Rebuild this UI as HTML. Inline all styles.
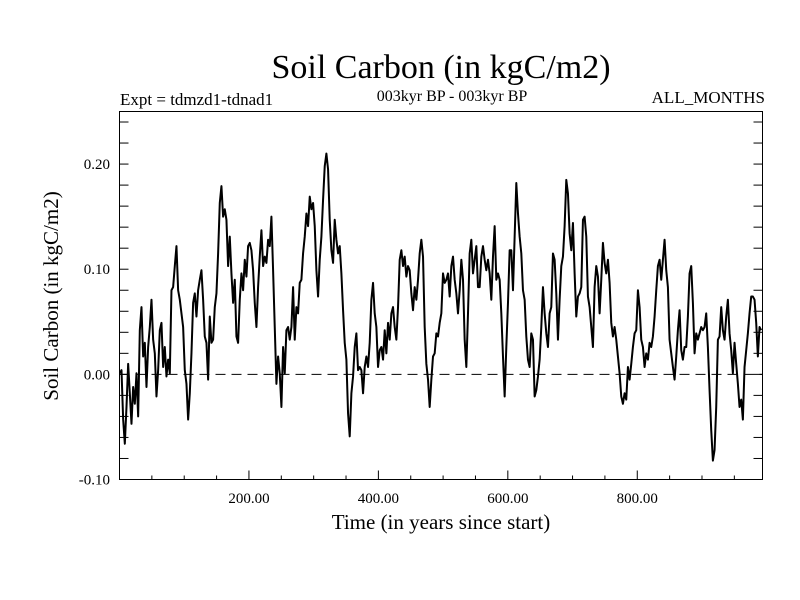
<!DOCTYPE html>
<html>
<head>
<meta charset="utf-8">
<style>
  html, body { margin: 0; padding: 0; background: #fff; }
  svg { display: block; }
  text { font-family: "Liberation Serif", serif; fill: #000; }
</style>
</head>
<body>
<svg id="chart" width="800" height="600" viewBox="0 0 800 600" xmlns="http://www.w3.org/2000/svg">
  <rect x="0" y="0" width="800" height="600" fill="#fff"/>
  <text x="441" y="78" font-size="34" text-anchor="middle">Soil Carbon (in kgC/m2)</text>
  <text x="120" y="105" font-size="17">Expt = tdmzd1-tdnad1</text>
  <text x="452" y="101" font-size="16" text-anchor="middle">003kyr BP - 003kyr BP</text>
  <text x="765" y="103" font-size="17" text-anchor="end">ALL_MONTHS</text>
  <text x="441" y="529" font-size="21" text-anchor="middle">Time (in years since start)</text>
  <text x="0" y="0" font-size="21" text-anchor="middle" transform="translate(58,296) rotate(-90)">Soil Carbon (in kgC/m2)</text>
  <g id="ticks"></g>
  <g id="labels"></g>
  <line id="zero" stroke="#000" stroke-width="1" stroke-dasharray="10,6"/>
  <path id="series" fill="none" stroke="#000" stroke-width="2" stroke-linejoin="round"/>
  <rect x="119.5" y="111.5" width="643" height="368" fill="none" stroke="#000" stroke-width="1"/>
</svg>
<script>
const xTickValues = [200, 400, 600, 800];
const xTickLabels = ["200.00", "400.00", "600.00", "800.00"];
const yTickValues = [-0.10, 0.00, 0.10, 0.20];
const yTickLabels = ["-0.10", "0.00", "0.10", "0.20"];
const yearStart = 0.5;
const yearStep = 2.574;
const values = [
 .001,.004,-.043,-.066,-.031,.010,-.018,-.047,-.012,-.028,
 .001,-.040,.042,.064,.017,.030,-.012,.026,.045,.071,
 .033,.020,-.021,.004,.042,.049,.007,.026,-.002,.014,
 .001,.080,.083,.103,.122,.080,.071,.058,.045,.004,
 -.009,-.043,-.018,.020,.068,.077,.055,.080,.090,.099,
 .071,.036,.030,-.005,.055,.030,.033,.064,.077,.115,
 .163,.179,.150,.157,.147,.103,.131,.096,.068,.090,
 .036,.030,.071,.096,.080,.109,.093,.122,.125,.118,
 .099,.068,.045,.083,.112,.137,.103,.112,.106,.128,
 .122,.150,.099,.045,-.009,.017,.001,-.031,.026,.001,
 .042,.045,.033,.045,.083,.033,.064,.058,.087,.090,
 .115,.131,.153,.141,.169,.157,.163,.141,.099,.074,
 .109,.131,.166,.198,.210,.195,.147,.118,.106,.147,
 .128,.115,.122,.096,.061,.030,.014,-.037,-.059,-.018,
 -.002,.026,.039,.004,.007,.004,-.018,.007,.017,.007,
 .030,.071,.087,.058,.045,.007,.023,.026,.014,.042,
 .020,.049,.033,.058,.064,.045,.033,.064,.109,.118,
 .103,.112,.093,.103,.099,.077,.061,.083,.071,.090,
 .115,.128,.112,.045,.010,-.005,-.031,-.005,.017,.020,
 .039,.036,.049,.058,.096,.087,.090,.096,
 .074,.103,.112,.090,.077,.058,.080,.109,.090,.033,
 .007,.058,.115,.128,.096,.109,.122,.083,.083,.112,
 .122,.109,.099,.109,.096,.071,.112,.141,.090,.096,
 .090,.058,.017,-.021,.026,.068,.118,.118,.080,.131,
 .182,.153,.131,.115,.080,.071,.036,.014,.007,.039,
 .033,-.021,-.015,-.002,.014,.045,.083,.058,.039,.026,
 .058,.064,.115,.109,.077,.033,.071,.103,.112,.141,
 .185,.172,.134,.118,.144,.096,.055,.074,.077,.083,
 .147,.150,.131,.074,.064,.045,.026,.083,.103,.093,
 .058,.090,.125,.106,.096,.109,.087,.049,.036,
 .045,.033,.017,.001,-.021,-.028,-.018,-.024,.007,-.005,
 .010,.026,.039,.042,.080,.064,.033,.026,.007,.020,
 .014,.030,.026,.036,.055,.080,.103,.109,.090,.109,
 .128,.099,.083,.033,.020,.007,-.005,.017,.042,.061,
 .023,.014,.026,.026,.055,.096,.103,.068,.020,.039,
 .033,.039,.045,.042,.045,.058,.026,-.015,-.053,-.082,
 -.072,-.031,.033,.036,.064,.042,.033,.055,.071,.039,
 .023,.001,.030,.010,-.009,-.031,-.024,-.043,.007,.023,
 .039,.058,.074,.074,.071,.049,.017,.045,.042
];

const L = 119.5, R = 762.5, T = 111.5, B = 479.5;
const xMin = 0, xMax = 993.5, yMin = -0.1, yMax = 0.25;
const xScale = v => L + (v - xMin) / (xMax - xMin) * (R - L);
const yScale = v => B - (v - yMin) / (yMax - yMin) * (B - T);
const NS = "http://www.w3.org/2000/svg";

const years = values.map((v, i) => yearStart + i * yearStep);
let d = "";
values.forEach((v, i) => {
  d += (i ? "L" : "M") + xScale(years[i]).toFixed(2) + "," + yScale(v).toFixed(2);
});
document.getElementById("series").setAttribute("d", d);

const z = document.getElementById("zero");
z.setAttribute("x1", L); z.setAttribute("x2", R);
z.setAttribute("y1", yScale(0)); z.setAttribute("y2", yScale(0));

const tg = document.getElementById("ticks");
function tick(x1, y1, x2, y2) {
  const l = document.createElementNS(NS, "line");
  l.setAttribute("x1", x1); l.setAttribute("y1", y1);
  l.setAttribute("x2", x2); l.setAttribute("y2", y2);
  l.setAttribute("stroke", "#000"); l.setAttribute("stroke-width", "1");
  
  
  tg.appendChild(l);
}
for (let k = -5; k <= 12; k++) {
  const y = yScale(k * 0.02);
  if (y < T || y > B) continue;
  tick(L, y, L + 9, y);
  tick(R, y, R - 9, y);
}
for (let yr = 50; yr < xMax; yr += 50) {
  const x = xScale(yr);
  const len = yr % 200 === 0 ? 9 : 4;
  tick(x, B, x, B - len);
}

const lg = document.getElementById("labels");
function label(x, y, s, anchor, name) {
  const t = document.createElementNS(NS, "text");
  t.setAttribute("x", x); t.setAttribute("y", y);
  t.setAttribute("font-size", "15");
  t.setAttribute("text-anchor", anchor);
  t.textContent = s;
  
  
  lg.appendChild(t);
}
xTickValues.forEach((v, i) => label(xScale(v), 503, xTickLabels[i], "middle", "x-tick-label"));
yTickValues.forEach((v, i) => label(110, yScale(v) + 5, yTickLabels[i], "end", "y-tick-label"));
</script>
</body>
</html>
